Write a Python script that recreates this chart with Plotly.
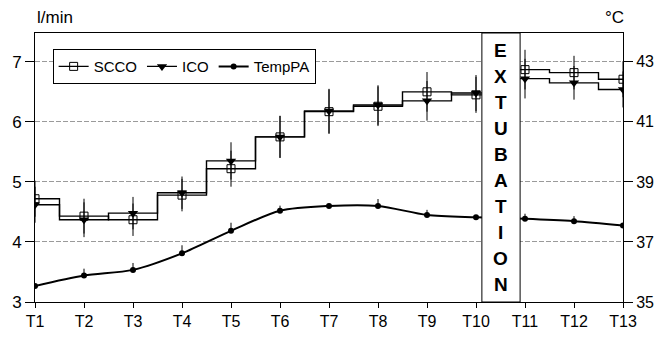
import plotly.graph_objects as go

# ---- data ----
time_labels = ["T1", "T2", "T3", "T4", "T5", "T6", "T7", "T8", "T9", "T10", "T11", "T12", "T13"]
time_idx = list(range(1, 14))

scco = [4.72, 4.43, 4.37, 4.78, 5.22, 5.75, 6.17, 6.26, 6.50, 6.45, 6.87, 6.82, 6.71]
scco_sd = [0.30, 0.29, 0.27, 0.27, 0.30, 0.35, 0.37, 0.33, 0.33, 0.30, 0.33, 0.28, 0.30]

ico = [4.62, 4.37, 4.48, 4.82, 5.35, 5.75, 6.18, 6.28, 6.35, 6.48, 6.72, 6.65, 6.54]
ico_sd = [0.30, 0.29, 0.27, 0.27, 0.31, 0.35, 0.37, 0.33, 0.33, 0.30, 0.33, 0.28, 0.30]

temp_pa = [35.53, 35.88, 36.07, 36.62, 37.37, 38.04, 38.20, 38.20, 37.90, 37.82, 37.77, 37.69, 37.55]
temp_sd_up = [0.0, 0.23, 0.23, 0.27, 0.27, 0.17, 0.0, 0.23, 0.17, 0.0, 0.17, 0.17, 0.0]

left_ticks = [3, 4, 5, 6, 7]
right_ticks = [35, 37, 39, 41, 43]
extubation_word = "EXTUBATION"

FONT = "Liberation Sans, Arial, sans-serif"

fig = go.Figure()

fig.add_trace(go.Scatter(
    x=time_idx, y=scco, name="SCCO", mode="lines+markers",
    line=dict(color="black", width=1.4, shape="hvh"),
    marker=dict(symbol="square-open", size=8, color="black", line=dict(width=1)),
    error_y=dict(type="data", array=scco_sd, visible=True, width=0, thickness=1, color="black"),
))
fig.add_trace(go.Scatter(
    x=time_idx, y=ico, name="ICO", mode="lines+markers",
    line=dict(color="black", width=1.4, shape="hvh"),
    marker=dict(symbol="triangle-down", size=9, color="black"),
    error_y=dict(type="data", array=ico_sd, visible=True, width=0, thickness=1, color="black"),
))
fig.add_trace(go.Scatter(
    x=time_idx, y=temp_pa, name="TempPA", mode="lines+markers", yaxis="y2",
    line=dict(color="black", width=2, shape="spline", smoothing=0.8),
    marker=dict(symbol="circle", size=6, color="black"),
    error_y=dict(type="data", symmetric=False, array=temp_sd_up,
                 arrayminus=[0] * len(temp_sd_up), visible=True, width=0,
                 thickness=1, color="black"),
))

# Extubation box covering the gap
fig.add_shape(type="rect", xref="x", yref="paper", x0=10.12, x1=10.9, y0=0, y1=1,
              fillcolor="white", line=dict(color="black", width=1), layer="above")

top_px, bottom_px = 33, 302
for i, ch in enumerate(extubation_word):
    ypx = 50 + 26.1 * i
    fig.add_annotation(x=10.51, xref="x", y=(bottom_px - ypx) / (bottom_px - top_px), yref="paper",
                       text="<b>" + ch + "</b>", showarrow=False,
                       font=dict(family=FONT, size=19, color="black"),
                       xanchor="center", yanchor="middle")

fig.add_annotation(x=0, xref="paper", y=1.058, yref="paper", text="l/min", showarrow=False,
                   xanchor="left", yanchor="middle", font=dict(family=FONT, size=17, color="black"))
fig.add_annotation(x=1.005, xref="paper", y=1.058, yref="paper", text="°C", showarrow=False,
                   xanchor="right", yanchor="middle", font=dict(family=FONT, size=17, color="black"))

fig.update_layout(
    width=659, height=340,
    margin=dict(l=35, r=36, t=33, b=38, autoexpand=False),
    paper_bgcolor="white", plot_bgcolor="white",
    font=dict(family=FONT, size=16, color="black"),
    showlegend=True,
    legend=dict(orientation="h", x=0.03, y=0.94, xanchor="left", yanchor="top",
                bgcolor="white", bordercolor="black", borderwidth=1,
                font=dict(family=FONT, size=15, color="black"),
                itemwidth=30, tracegroupgap=0),
    xaxis=dict(range=[1, 13], tickmode="array", tickvals=time_idx, ticktext=time_labels,
               showgrid=False, zeroline=False, showline=True, linecolor="black", linewidth=1,
               ticks="outside", ticklen=5, tickcolor="black", mirror=True, automargin=False,
               tickfont=dict(size=16)),
    yaxis=dict(range=[3, 7.48], tickmode="array", tickvals=left_ticks, automargin=False,
               showgrid=True, gridcolor="#9a9a9a", griddash="5px,2px", gridwidth=1,
               zeroline=False, showline=True, linecolor="black", linewidth=1,
               ticks="outside", ticklen=9, tickcolor="black",
               tickfont=dict(size=17)),
    yaxis2=dict(range=[35, 43.96], tickmode="array", tickvals=right_ticks, overlaying="y",
                side="right", showgrid=False, zeroline=False, showline=True, automargin=False,
                linecolor="black", linewidth=1, ticks="outside", ticklen=9, tickcolor="black",
                tickfont=dict(size=16)),
)

fig.write_html("out.html", config={"displayModeBar": False},
               post_script="document.body.style.margin='0';")
